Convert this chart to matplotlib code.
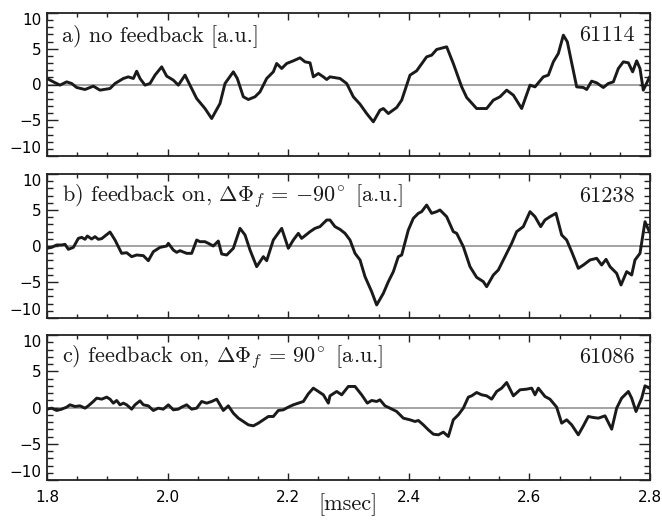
import matplotlib
matplotlib.use("Agg")
import matplotlib.pyplot as plt
from matplotlib.ticker import MultipleLocator
import numpy as np

plt.rcParams['mathtext.fontset'] = 'cm'
plt.rcParams['font.family'] = ['DejaVu Sans']

# ---------------- data (time in msec, signal in a.u.) ----------------
t_a = [1.8000, 1.8105, 1.8216, 1.8326, 1.8409, 1.8492, 1.8630, 1.8713, 1.8768, 1.8879,
       1.9045, 1.9128, 1.9266, 1.9349, 1.9432, 1.9487, 1.9542, 1.9625, 1.9708, 1.9791,
       1.9902, 1.9985, 2.0095, 2.0178, 2.0289, 2.0371, 2.0482, 2.0620, 2.0731, 2.0869,
       2.0952, 2.1090, 2.1156, 2.1256, 2.1339, 2.1449, 2.1532, 2.1643, 2.1753, 2.1809,
       2.1892, 2.1975, 2.2085, 2.2196, 2.2279, 2.2362, 2.2417, 2.2500, 2.2583, 2.2638,
       2.2693, 2.2859, 2.2970, 2.3080, 2.3191, 2.3301, 2.3412, 2.3522, 2.3578, 2.3661,
       2.3799, 2.3882, 2.4020, 2.4130, 2.4296, 2.4379, 2.4462, 2.4628, 2.4738, 2.4877,
       2.4960, 2.5125, 2.5291, 2.5402, 2.5512, 2.5623, 2.5734, 2.5872, 2.6010, 2.6093,
       2.6231, 2.6314, 2.6397, 2.6480, 2.6563, 2.6629, 2.6784, 2.6895, 2.6950, 2.7032,
       2.7116, 2.7226, 2.7309, 2.7392, 2.7475, 2.7558, 2.7641, 2.7712, 2.7779, 2.7834,
       2.7889, 2.7989]
v_a = [0.84, 0.37, -0.09, 0.37, 0.14, -0.42, -0.70, -0.42, -0.23, -0.79,
       -0.56, 0.14, 0.84, 1.07, 0.84, 1.86, 0.84, -0.09, 0.14, 1.31,
       2.47, 1.17, 0.61, -0.09, 1.31, -0.09, -1.96, -3.36, -4.76, -2.66,
       0.14, 1.77, 0.84, -1.72, -2.10, -1.72, -1.03, 0.84, 1.77, 2.94,
       2.24, 2.94, 3.31, 3.73, 3.17, 3.03, 1.07, 1.54, 1.07, 0.70,
       1.07, 0.84, 0.14, -1.72, -2.75, -4.06, -5.22, -3.59, -3.36, -4.06,
       -3.22, -2.19, 1.31, 1.91, 3.87, 4.10, 4.90, 5.27, 2.94, -0.33,
       -1.82, -3.36, -3.36, -2.19, -1.72, -0.79, -1.49, -3.36, -0.09, -0.33,
       1.07, 1.31, 3.17, 4.34, 6.90, 5.97, -0.33, -0.42, -0.70, 0.47,
       0.23, -0.42, 0.14, 0.37, 2.24, 3.17, 3.03, 1.77, 3.31, 2.24,
       -0.79, 0.98]

t_b = [1.8000, 1.8077, 1.8160, 1.8243, 1.8299, 1.8354, 1.8437, 1.8520, 1.8575, 1.8630,
       1.8669, 1.8741, 1.8796, 1.8851, 1.8907, 1.8962, 1.9045, 1.9128, 1.9238, 1.9321,
       1.9404, 1.9487, 1.9598, 1.9680, 1.9763, 1.9874, 1.9985, 2.0012, 2.0095, 2.0150,
       2.0206, 2.0316, 2.0399, 2.0482, 2.0537, 2.0620, 2.0676, 2.0758, 2.0841, 2.0897,
       2.0980, 2.1090, 2.1201, 2.1284, 2.1367, 2.1477, 2.1588, 2.1643, 2.1753, 2.1892,
       2.2002, 2.2085, 2.2168, 2.2223, 2.2362, 2.2444, 2.2527, 2.2638,
       2.2693, 2.2776, 2.2859, 2.2942, 2.3025, 2.3108, 2.3191, 2.3274, 2.3384, 2.3467,
       2.3578, 2.3661, 2.3744, 2.3826, 2.3882, 2.3992, 2.4075, 2.4158, 2.4213, 2.4296,
       2.4379, 2.4462, 2.4517, 2.4628, 2.4738, 2.4794, 2.4904, 2.5015, 2.5125, 2.5236,
       2.5291, 2.5402, 2.5485, 2.5595, 2.5706, 2.5789, 2.5899, 2.6010, 2.6093, 2.6187,
       2.6258, 2.6341, 2.6441, 2.6535, 2.6618, 2.6701, 2.6811, 2.6895, 2.7005, 2.7116,
       2.7198, 2.7271, 2.7337, 2.7447, 2.7519, 2.7613, 2.7696, 2.7751, 2.7834, 2.7917,
       2.7989]
v_b = [-0.32, -0.19, 0.14, 0.14, 0.23, -0.46, -0.19, 1.06, 1.20, 0.93,
       1.39, 0.97, 1.30, 0.93, 1.02, 1.39, 1.94, 0.83, -1.02, -0.93,
       -1.48, -1.25, -1.34, -2.04, -0.79, -0.19, 0.00, 0.37, -0.56, -0.88,
       -0.65, -1.02, -1.02, 0.83, 0.60, 0.60, 0.37, 0.00, 0.69, -1.11,
       -1.25, -0.32, 2.45, 1.53, -0.56, -2.87, -1.48, -2.04, 0.83, 2.45,
       -0.32, 0.83, 1.76, 1.06, 1.99, 2.45, 2.69, 3.61,
       3.61, 2.69, 2.31, 1.76, 0.83, -1.02, -1.94, -4.26, -6.34, -8.19,
       -6.57, -4.95, -3.56, -1.48, -1.25, 2.22, 3.84, 4.54, 4.77, 5.69,
       4.54, 4.77, 5.00, 4.07, 1.99, 1.76, -0.09, -2.87, -4.35, -4.95,
       -5.65, -4.03, -3.33, -1.48, 0.37, 1.99, 2.69, 4.77, 4.07, 2.69,
       3.61, 4.07, 4.54, 1.53, 0.83, -0.79, -3.10, -2.64, -1.94, -1.71,
       -2.64, -1.85, -2.87, -3.80, -5.42, -3.56, -4.03, -1.94, -1.02, 3.38,
       1.99]

t_c = [1.8000, 1.8077, 1.8160, 1.8243, 1.8326, 1.8381, 1.8464, 1.8547, 1.8630, 1.8685,
       1.8768, 1.8824, 1.8907, 1.8990, 1.9045, 1.9100, 1.9155, 1.9211, 1.9266, 1.9321,
       1.9404, 1.9459, 1.9542, 1.9598, 1.9680, 1.9763, 1.9846, 1.9929, 2.0012, 2.0095,
       2.0178, 2.0233, 2.0316, 2.0399, 2.0482, 2.0565, 2.0648, 2.0731, 2.0814, 2.0869,
       2.0924, 2.1007, 2.1090, 2.1173, 2.1256, 2.1339, 2.1422, 2.1505, 2.1588, 2.1671,
       2.1753, 2.1836, 2.1919, 2.2002, 2.2085, 2.2168, 2.2251, 2.2334, 2.2417, 2.2500,
       2.2583, 2.2666,
       2.2693, 2.2804, 2.2887, 2.2997, 2.3108, 2.3218, 2.3312, 2.3384, 2.3467, 2.3522,
       2.3605, 2.3688, 2.3799, 2.3909, 2.4020, 2.4103, 2.4158, 2.4241, 2.4324, 2.4407,
       2.4490, 2.4573, 2.4656, 2.4738, 2.4821, 2.4904, 2.4987, 2.5043, 2.5125, 2.5208,
       2.5291, 2.5374, 2.5457, 2.5540, 2.5623, 2.5734, 2.5844, 2.5955, 2.6038, 2.6093,
       2.6148, 2.6258, 2.6341, 2.6452, 2.6535, 2.6618, 2.6701, 2.6811, 2.6895, 2.6977,
       2.7060, 2.7143, 2.7254, 2.7365, 2.7447, 2.7530, 2.7641, 2.7696, 2.7768, 2.7862,
       2.7917, 2.7989]
v_c = [-0.23, -0.09, -0.41, -0.23, 0.05, 0.37, 0.14, 0.23, -0.09, 0.23,
       0.83, 1.29, 1.15, 1.43, 1.15, 0.60, 0.97, 0.37, 0.60, 0.37,
       -0.23, 0.37, 0.92, 0.37, 0.23, -0.41, -0.09, -0.23, 0.37, -0.32,
       -0.23, 0.05, 0.37, -0.23, -0.09, 0.83, 0.60, 0.83, 1.15, 0.37,
       -0.41, 0.23, -0.78, -1.47, -1.93, -2.39, -2.53, -2.16, -1.70, -1.24,
       -1.24, -0.41, -0.32, 0.05, 0.37, 0.60, 0.83, 1.89, 2.67, 2.21,
       1.75, 0.60,
       1.61, 2.21, 1.75, 2.90, 2.90, 1.75, 0.60, 0.97, 0.83, 1.06,
       0.23, -0.09, -0.55, -1.47, -1.70, -1.93, -1.79, -2.39, -3.08, -3.68,
       -3.77, -3.40, -4.00, -1.70, -1.01, -0.09, 1.43, 1.61, 2.07, 1.75,
       1.61, 1.15, 2.21, 2.67, 3.45, 1.61, 2.44, 2.53, 2.67, 1.75,
       2.67, 1.52, 1.15, 0.05, -2.16, -1.70, -2.39, -3.77, -2.53, -1.24,
       -1.38, -1.47, -1.15, -2.99, -0.09, 1.29, 2.21, 1.29, -0.55, 1.29,
       2.99, 2.67]

labels = ["a) no feedback [a.u.]",
          r"b) feedback on, $\Delta\Phi_f$ = $-90^{\!\circ}$ [a.u.]",
          r"c) feedback on, $\Delta\Phi_f$ = $90^{\!\circ}$ [a.u.]"]
shots = ["61114", "61238", "61086"]
xlabel = "[msec]"
xticks = [1.8, 2.0, 2.2, 2.4, 2.6, 2.8]
yticks = [-10, -5, 0, 5, 10]

# ---------------- figure ----------------
fig = plt.figure(figsize=(6.62, 5.27), dpi=100)
W, H = 662.0, 527.0
left, right = 47, 650
tops = [13, 174, 335]
bottoms = [156, 318, 480]
serif = 'cmr10'

series = [(t_a, v_a), (t_b, v_b), (t_c, v_c)]
for i, ((t, v), lab, shot) in enumerate(zip(series, labels, shots)):
    ax = fig.add_axes([left / W, 1 - bottoms[i] / H, (right - left) / W, (bottoms[i] - tops[i]) / H])
    ax.axhline(0, color='#8a8a8a', lw=1.1, zorder=1)
    ax.plot(t, v, color='#1a1a1a', lw=2.1, zorder=2, solid_joinstyle='round')
    ax.set_xlim(1.8, 2.8)
    ax.set_ylim(-10, 10)
    ax.set_xticks(xticks)
    ax.xaxis.set_minor_locator(MultipleLocator(0.05))
    ax.set_yticks(yticks)
    ax.yaxis.set_minor_locator(MultipleLocator(1))
    ax.set_yticklabels([str(y).replace('-', '\u2212') for y in yticks])
    ax.tick_params(which='both', direction='in', top=True, right=True, width=1.0, color='#222222')
    ax.tick_params(axis='y', which='major', length=8, labelsize=11, pad=4)
    ax.tick_params(axis='y', which='minor', length=4)
    ax.tick_params(axis='x', which='major', length=5, labelsize=11, pad=7)
    ax.tick_params(axis='x', which='minor', length=3)
    ylabs = ax.get_yticklabels()
    ylabs[0].set_verticalalignment('bottom')
    ylabs[-1].set_verticalalignment('top')
    for s in ax.spines.values():
        s.set_linewidth(1.3)
        s.set_color('#222222')
    if i < 2:
        ax.set_xticklabels([])
    else:
        ax.set_xticklabels([f"{x:.1f}" for x in xticks])
    ax.text(0.025, 0.845, lab, transform=ax.transAxes, fontsize=16, family=serif,
            ha='left', va='center', color='#1a1a1a')
    ax.text(0.975, 0.845, shot, transform=ax.transAxes, fontsize=16, family=serif,
            ha='right', va='center', color='#1a1a1a')

fig.text(348 / W, 1 - 505 / H, xlabel, fontsize=16, family=serif, ha='center', va='center', color='#1a1a1a')

fig.savefig("out.png", dpi=100)
